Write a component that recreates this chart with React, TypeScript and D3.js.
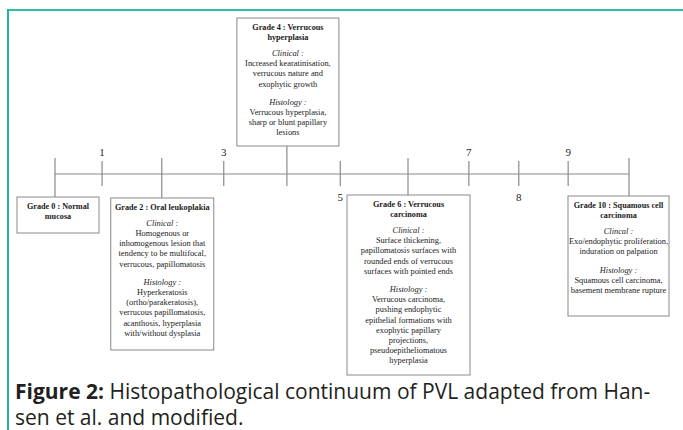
import * as d3 from "d3";

// Grades along the continuum
const stageGrades = [0, 2, 4, 6, 10];
const minorGrades = [1, 3, 5, 7, 8, 9];
// where each grade sits on the drawn line (in grade units)
const drawnAt = [0, 0.82, 1.86, 2.94, 4.04, 4.97, 6.15, 7.21, 8.08, 8.94, 10];

const stageTitles = [
  ["Grade 0 : Normal", "mucosa"],
  ["Grade 2 : Oral leukoplakia"],
  ["Grade 4 : Verrucous", "hyperplasia"],
  ["Grade 6 : Verrucous", "carcinoma"],
  ["Grade 10 : Squamous cell", "carcinoma"],
];
const clinicalHeads = ["", "Clinical :", "Clinical :", "Clinical :", "Clincal :"];
const clinicalLines = [
  [],
  ["Homogenous or", "inhomogenous lesion that", "tendency to be multifocal,", "verrucous, papillomatosis"],
  ["Increased kearatinisation,", "verrucous nature and", "exophytic growth"],
  ["Surface thickening,", "papillomatosis surfaces with", "rounded ends of verrucous", "surfaces with pointed ends"],
  ["Exo/endophytic proliferation,", "induration on palpation"],
];
const histologyLines = [
  [],
  ["Hyperkeratosis", "(ortho/parakeratosis),", "verrucous papillomatosis,", "acanthosis, hyperplasia", "with/without dysplasia"],
  ["Verrucous hyperplasia,", "sharp or blunt papillary", "lesions"],
  ["Verrucous carcinoma,", "pushing endophytic", "epithelial formations with", "exophytic papillary", "projections,", "pseudoepitheliomatous", "hyperplasia"],
  ["Squamous cell carcinoma,", "basement membrane rupture"],
];
const minorLabelSide = ["top", "top", "bottom", "top", "bottom", "top"];

// box layout: top, width, height, horizontal offset from the connector
const BOXES = [
  { top: 197, w: 82, h: 36, dx: 3 },
  { top: 198, w: 103, h: 152, dx: 0.5 },
  { top: 18, w: 102, h: 128, dx: 1 },
  { top: 195, w: 123, h: 180, dx: 0.5 },
  { top: 196, w: 101, h: 120, dx: -10.5 },
];

const WIDTH = 683;
const HEIGHT = 430;
const AXIS_Y = 174;
const LINE_H = 10.2;
const SERIF = "'Liberation Serif', 'Times New Roman', serif";
const STROKE = "#8a8a8a";

const StageBox = ({ i, cx }: { i: number; cx: number }) => {
  const b = BOXES[i];
  const left = cx + b.dx - b.w / 2;
  const mid = left + b.w / 2;
  const rows: { t: string; kind: string; y: number }[] = [];
  let y = b.top + 9;
  stageTitles[i].forEach((t) => {
    rows.push({ t, kind: "title", y });
    y += LINE_H;
  });
  if (clinicalHeads[i]) {
    y += 6;
    rows.push({ t: clinicalHeads[i], kind: "head", y });
    y += LINE_H;
    clinicalLines[i].forEach((t) => {
      rows.push({ t, kind: "body", y });
      y += LINE_H;
    });
    y += 8;
    rows.push({ t: "Histology :", kind: "head", y });
    y += LINE_H;
    histologyLines[i].forEach((t) => {
      rows.push({ t, kind: "body", y });
      y += LINE_H;
    });
  }
  return (
    <g>
      <rect x={left} y={b.top} width={b.w} height={b.h} fill="white" stroke={STROKE} strokeWidth={1} />
      {rows.map((r, k) => (
        <text
          key={k}
          x={mid}
          y={r.y}
          textAnchor="middle"
          dominantBaseline="central"
          fontFamily={SERIF}
          fontSize={r.kind === "title" ? 8.2 : 8.4}
          fontWeight={r.kind === "title" ? "bold" : "normal"}
          fontStyle={r.kind === "head" ? "italic" : "normal"}
          fill="#1a1a1a"
        >
          {r.t}
        </text>
      ))}
    </g>
  );
};

export default function App() {
  const xScale = d3.scaleLinear().domain([0, 10]).range([55, 629]);
  const pos = (g: number) => xScale(drawnAt[g]);

  return (
    <svg
      width={WIDTH}
      height={HEIGHT}
      style={{ position: "absolute", left: 0, top: 0, background: "white" }}
    >
      {/* frame */}
      <line x1={8} y1={10} x2={WIDTH} y2={10} stroke="#2dbf9f" strokeWidth={2} />
      <line x1={8} y1={9} x2={8} y2={HEIGHT} stroke="#22b594" strokeWidth={2} />

      {/* main line */}
      <line x1={pos(0)} y1={AXIS_Y} x2={pos(10)} y2={AXIS_Y} stroke={STROKE} strokeWidth={1.2} />

      {/* minor ticks */}
      {minorGrades.map((g, i) => {
        const x = pos(g);
        const top = minorLabelSide[i] === "top";
        return (
          <g key={g}>
            <line x1={x} y1={AXIS_Y - 13} x2={x} y2={AXIS_Y + 12} stroke={STROKE} strokeWidth={1.2} />
            <text
              x={x}
              y={top ? AXIS_Y - 22 : AXIS_Y + 23}
              textAnchor="middle"
              dominantBaseline="central"
              fontFamily={SERIF}
              fontSize={11}
              fill="#222"
            >
              {g}
            </text>
          </g>
        );
      })}

      {/* connectors + boxes */}
      {stageGrades.map((g, i) => {
        const x = pos(g);
        const b = BOXES[i];
        const above = b.top < AXIS_Y;
        return (
          <g key={g}>
            {above ? (
              <line x1={x} y1={b.top + b.h} x2={x} y2={AXIS_Y + 12} stroke={STROKE} strokeWidth={1.2} />
            ) : (
              <line x1={x} y1={AXIS_Y - 16} x2={x} y2={b.top} stroke={STROKE} strokeWidth={1.2} />
            )}
            <StageBox i={i} cx={x} />
          </g>
        );
      })}

      {/* caption */}
      <text x={15} y={399} fontFamily="'Open Sans', sans-serif" fontSize={21} fill="#231f20">
        <tspan fontWeight="bold">Figure 2:</tspan>
        <tspan> Histopathological continuum of PVL adapted from Han-</tspan>
      </text>
      <text x={15} y={425} fontFamily="'Open Sans', sans-serif" fontSize={21} fill="#231f20">
        sen et al. and modified.
      </text>
    </svg>
  );
}
